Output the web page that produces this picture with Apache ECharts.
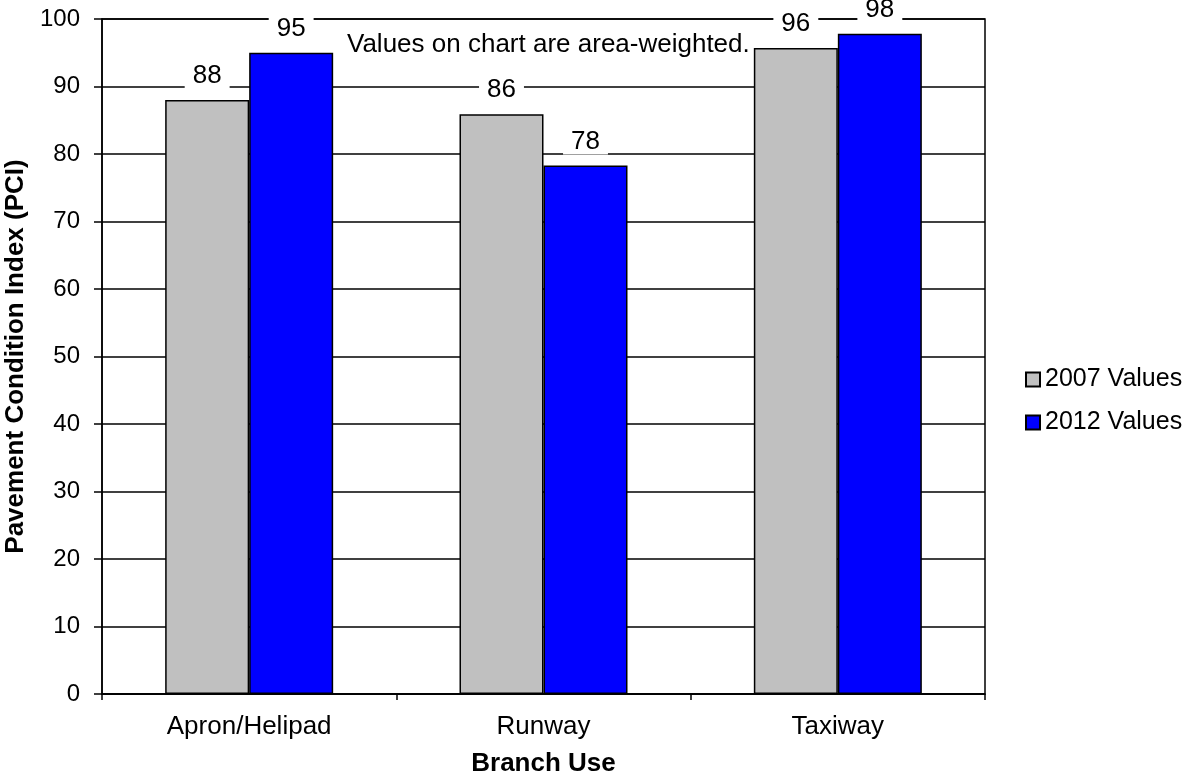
<!DOCTYPE html>
<html>
<head>
<meta charset="utf-8">
<script src="https://cdn.jsdelivr.net/npm/echarts@6/dist/echarts.min.js"></script>
<style>
html,body{margin:0;padding:0;background:#fff;}
#chart{width:1188px;height:775px;}
</style>
</head>
<body>
<div id="chart"></div>
<script>
const categories = ['Apron/Helipad', 'Runway', 'Taxiway'];
const values2007 = [88.0, 85.9, 95.7];
const values2012 = [95.0, 78.3, 97.8];
const seriesNames = ['2007 Values', '2012 Values'];
const yTicks = { min: 0, max: 100, interval: 10 };
const note = 'Values on chart are area-weighted.';

const FONT = '"Liberation Sans", Arial, sans-serif';
const chart = echarts.init(document.getElementById('chart'), null, { renderer: 'canvas' });

const labelCfg = {
  show: true,
  position: 'top',
  distance: 11,
  formatter: p => String(Math.round(p.value)),
  fontFamily: FONT,
  fontSize: 26,
  color: '#000',
  backgroundColor: '#fff',
  padding: [0, 8]
};

chart.setOption({
  backgroundColor: '#fff',
  animation: false,
  textStyle: { fontFamily: FONT, color: '#000' },
  grid: {
    left: 102, right: 203, top: 19, bottom: 81,
    containLabel: false,
    outerBoundsMode: 'none',
    show: true, borderColor: '#000', borderWidth: 1.5, backgroundColor: 'transparent'
  },
  legend: {
    orient: 'vertical',
    left: 1025,
    top: 367,
    padding: 0,
    itemWidth: 14,
    itemHeight: 14,
    itemGap: 18,
    icon: 'rect',
    textStyle: { fontFamily: FONT, fontSize: 25, color: '#000' },
    data: seriesNames
  },
  xAxis: {
    type: 'category',
    data: categories,
    name: 'Branch Use',
    nameLocation: 'middle',
    nameGap: 57,
    nameTextStyle: { fontFamily: FONT, fontSize: 26, fontWeight: 'bold', color: '#000' },
    axisLine: { lineStyle: { color: '#000', width: 1.5 } },
    axisTick: { show: true, length: 6, lineStyle: { color: '#000', width: 1.5 } },
    axisLabel: { fontFamily: FONT, fontSize: 26, color: '#000', margin: 20 },
    splitLine: { show: false }
  },
  yAxis: {
    type: 'value',
    min: yTicks.min,
    max: yTicks.max,
    interval: yTicks.interval,
    name: 'Pavement Condition Index (PCI)',
    nameLocation: 'middle',
    nameGap: 71,
    nameRotate: 90,
    nameTextStyle: { fontFamily: FONT, fontSize: 26, fontWeight: 'bold', color: '#000' },
    axisLine: { show: true, lineStyle: { color: '#000', width: 1.5 } },
    axisTick: { show: true, length: 8, lineStyle: { color: '#000', width: 1.5 } },
    axisLabel: { fontFamily: FONT, fontSize: 24, color: '#000', margin: 22 },
    splitLine: { show: true, lineStyle: { color: '#000', width: 1.5 } }
  },
  series: [
    {
      name: seriesNames[0],
      type: 'bar',
      data: values2007,
      barWidth: 84,
      barGap: '0%',
      itemStyle: { color: '#C0C0C0', borderColor: '#000', borderWidth: 1.5 },
      label: labelCfg,
      z: 3
    },
    {
      name: seriesNames[1],
      type: 'bar',
      data: values2012,
      barWidth: 84,
      barGap: '0%',
      itemStyle: { color: '#0000FF', borderColor: '#000', borderWidth: 1.5 },
      label: labelCfg,
      z: 3
    }
  ],
  graphic: [
    {
      type: 'text',
      x: 347,
      y: 45,
      z: 100,
      style: {
        text: note,
        font: '26px "Liberation Sans", Arial, sans-serif',
        fill: '#000',
        verticalAlign: 'middle',
        align: 'left'
      }
    }
  ]
});
</script>
</body>
</html>
